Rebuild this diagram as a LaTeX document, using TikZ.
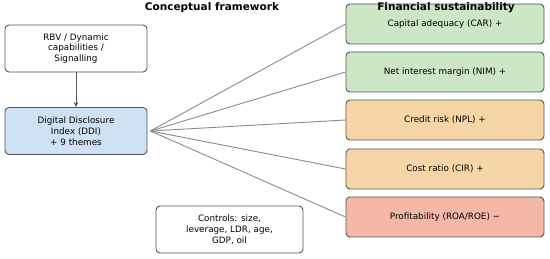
\documentclass[tikz,border=0pt]{standalone}
\usepackage{fontspec}
\usetikzlibrary{arrows.meta}
\setmainfont{DejaVu Sans}
\definecolor{boxline}{HTML}{555555}
\definecolor{fanline}{HTML}{8A8A8A}
\definecolor{ddiblue}{HTML}{CFE2F3}
\definecolor{okgreen}{HTML}{CCE6C6}
\definecolor{warnorange}{HTML}{F6D6A6}
\definecolor{badred}{HTML}{F3B8A6}
\begin{document}
\begin{tikzpicture}[x=1pt, y=1pt, >=stealth,
    box/.style={draw=boxline, line width=0.9pt, rounded corners=4pt, align=center,
                font=\fontsize{8.8}{10.8}\selectfont, inner sep=2pt},
    leftbox/.style={box, minimum width=142pt, minimum height=47pt},
    outbox/.style={box, minimum width=198pt, minimum height=40pt},
    heading/.style={font=\fontsize{10.5}{12}\selectfont\bfseries}]

    % Frame
    \useasboundingbox (0,0) rectangle (550,259);

    % Left side
    \node[leftbox, fill=white] (rbv) at (76,210.5) {RBV / Dynamic\\capabilities /\\Signalling};
    \node[leftbox, fill=ddiblue] (ddi) at (76,128) {Digital Disclosure\\Index (DDI)\\+ 9 themes};
    \node[box, fill=white, minimum width=147pt, minimum height=47pt] (ctrl) at (229.5,29.5) {Controls: size,\\leverage, LDR, age,\\GDP, oil};

    % Outcomes
    \node[outbox, fill=okgreen] (car) at (445,235) {Capital adequacy (CAR) +};
    \node[outbox, fill=okgreen] (nim) at (445,187) {Net interest margin (NIM) +};
    \node[outbox, fill=warnorange] (npl) at (445,139) {Credit risk (NPL) +};
    \node[outbox, fill=warnorange] (cir) at (445,90) {Cost ratio (CIR) +};
    \node[outbox, fill=badred] (prof) at (445,42) {Profitability (ROA/ROE) −};

    % Headings
    \node[heading] (title) at (212,251) {Conceptual framework};
    \node[heading] (fin) at (446,251) {Financial sustainability};

    % Theory feeds the index
    \draw[-{Stealth[length=5pt, width=4.5pt]}, boxline, line width=1pt] (rbv) -- (ddi);

    % Fan of links
    \coordinate (hub) at ([xshift=3pt]ddi.east);
    \foreach \target in {car, nim, npl, cir, prof}
        \draw[fanline, line width=0.9pt] (hub) -- (\target.west);

\end{tikzpicture}
\end{document}
